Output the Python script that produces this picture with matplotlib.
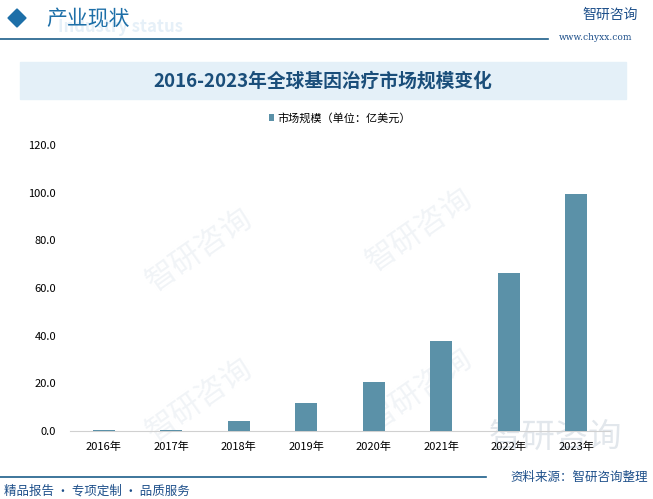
import matplotlib.pyplot as plt
from matplotlib.patches import Rectangle, Polygon

plt.rcParams['font.family'] = ['Noto Sans CJK SC', 'DejaVu Sans']

years = ['2016年', '2017年', '2018年', '2019年', '2020年', '2021年', '2022年', '2023年']
market_size = [0.4, 0.5, 4.2, 11.7, 20.7, 37.8, 66.3, 99.5]
y_ticks = [0, 20, 40, 60, 80, 100, 120]

W, H = 653, 499
fig = plt.figure(figsize=(W / 100, H / 100), dpi=100)


def fx(px):
    return px / W


def fy(py):
    return 1 - py / H


# faint watermarks
for (x, y) in [(200, 250), (420, 230), (200, 400), (420, 390)]:
    fig.text(fx(x), fy(y), '智研咨询', fontsize=22, color='#f1f4f7', rotation=35,
             ha='center', va='center', zorder=-1)

# header
fig.patches.append(Polygon([[fx(8), fy(18)], [fx(17), fy(9)], [fx(26), fy(18)], [fx(17), fy(27)]],
                           closed=True, transform=fig.transFigure, color='#1d6fa8'))
fig.text(fx(58), fy(27), 'Industry status', fontsize=12, color='#e6f0f8', fontweight='bold',
         ha='left', va='center', zorder=-1)
fig.text(fx(46), fy(19), '产业现状', fontsize=15, color='#1d6fa8', ha='left', va='center')
fig.add_artist(plt.Line2D([0, fx(548)], [fy(39), fy(39)], transform=fig.transFigure,
                          color='#1d5f8a', lw=1.2))
fig.text(fx(610), fy(15), '智研咨询', fontsize=10, color='#1d4f8a', ha='center', va='center')
fig.text(fx(596), fy(38), 'www.chyxx.com', fontsize=6.5, color='#1d4f8a', ha='center', va='center',
         family='DejaVu Serif')

# title banner
fig.patches.append(Rectangle((fx(20), fy(99)), fx(606), 37 / H, transform=fig.transFigure,
                             color='#e4f0f8', zorder=-2))
fig.text(fx(323), fy(81), '2016-2023年全球基因治疗市场规模变化', fontsize=13.5, fontweight='bold',
         color='#1a4e7a', ha='center', va='center')

# big logo bottom right
fig.text(fx(555), fy(437), '智研咨询', fontsize=24, color='#e2e7ec',
         ha='center', va='center', zorder=-1)

# chart
ax = fig.add_axes([fx(70), fy(431), fx(540), (431 - 145) / H])
ax.set_facecolor('none')
x = range(len(years))
ax.bar(x, market_size, width=0.33, color='#5b91a8', label='市场规模（单位：亿美元）', zorder=3)
ax.set_xlim(-0.5, len(years) - 0.5)
ax.set_ylim(0, 120)
ax.set_yticks(y_ticks)
ax.set_yticklabels([f'{v:.1f}' for v in y_ticks], fontsize=8)
ax.set_xticks(list(x))
ax.set_xticklabels(years, fontsize=8)
ax.tick_params(length=0, pad=8)
ax.tick_params(axis='y', pad=10)
for s in ['top', 'right', 'left']:
    ax.spines[s].set_visible(False)
ax.spines['bottom'].set_color('#d0d0d0')
ax.legend(loc='center', bbox_to_anchor=(0.5, 1 + (145 - 118) / (431 - 145)), frameon=False,
          fontsize=8, handlelength=0.5, handleheight=0.5, handletextpad=0.3)

# footer
fig.add_artist(plt.Line2D([0, fx(486)], [fy(477), fy(477)], transform=fig.transFigure,
                          color='#1d5f8a', lw=1.2))
fig.text(fx(648), fy(477), '资料来源：智研咨询整理', fontsize=9, color='#1d4f8a', ha='right', va='center')
fig.text(fx(4), fy(491), '精品报告 · 专项定制 · 品质服务', fontsize=9, color='#1d4f8a', ha='left', va='center')

fig.savefig('out.png', dpi=100)
